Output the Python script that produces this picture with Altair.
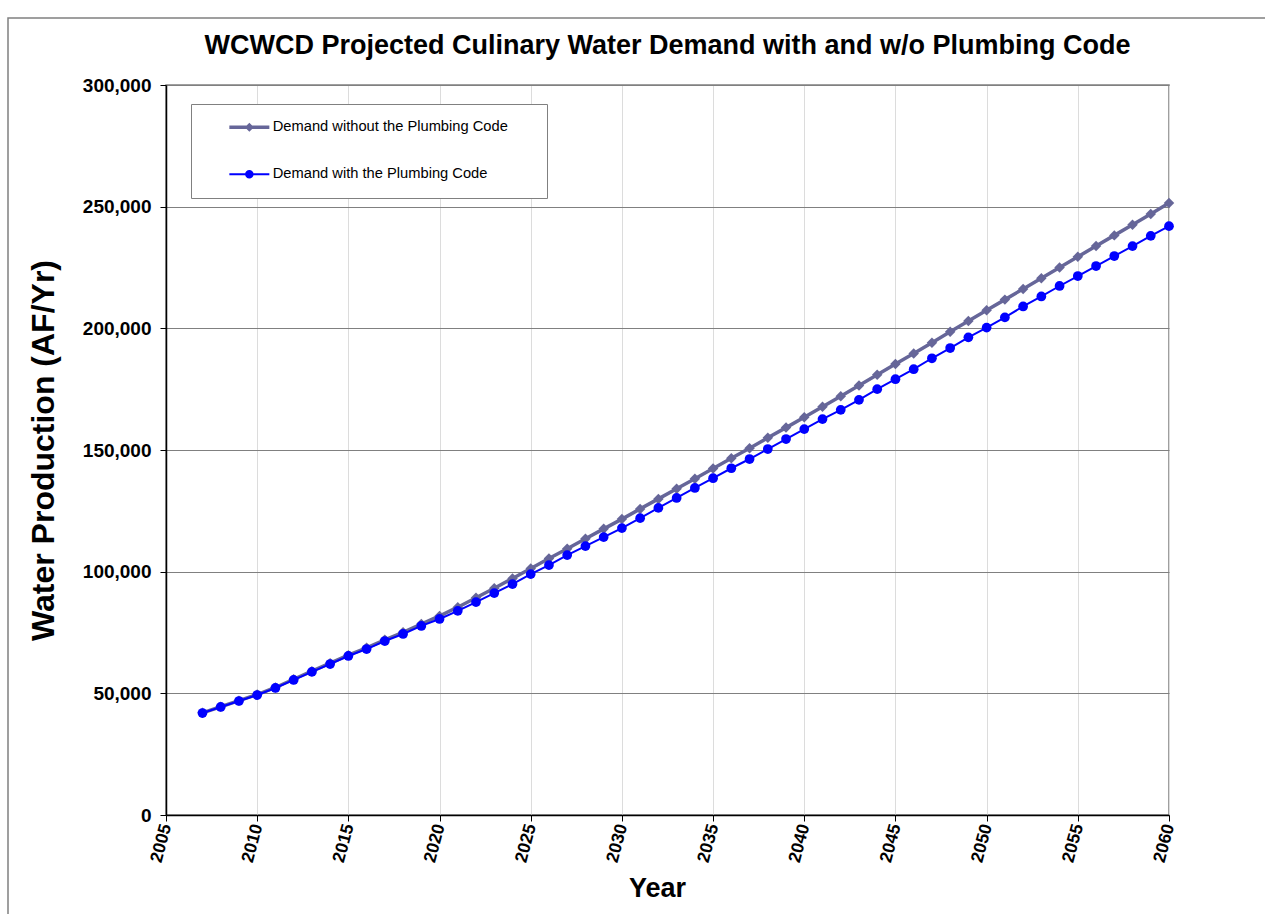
import altair as alt
import pandas as pd

years = list(range(2007, 2061))
without_code = [42000, 44500, 47000, 49500, 52400, 55800, 59100, 62400, 65700, 68700,
                72000, 75100, 78500, 81800, 85400, 89300, 93200, 97200, 101300, 105400,
                109400, 113500, 117600, 121600, 125800, 129900, 134100, 138200, 142400, 146600,
                150700, 155000, 159200, 163500, 167800, 172100, 176500, 180900, 185300, 189700,
                194100, 198600, 203000, 207400, 211800, 216200, 220600, 225000, 229400, 233800,
                238200, 242600, 247000, 251500]
with_code = [41900, 44400, 46850, 49300, 52200, 55500, 58800, 62050, 65350, 68200,
             71500, 74400, 77700, 80550, 83900, 87500, 91200, 94900, 99000, 102700,
             106800, 110500, 114200, 117900, 122000, 126200, 130300, 134400, 138400, 142500,
             146300, 150400, 154500, 158600, 162700, 166500, 170600, 175000, 179100, 183200,
             187700, 191900, 196300, 200300, 204500, 209000, 213100, 217400, 221500, 225600,
             229700, 233800, 238000, 242000]

series_names = ["Demand without the Plumbing Code", "Demand with the Plumbing Code"]
series_colors = ["#666699", "#0000FF"]
x_ticks = [2005, 2010, 2015, 2020, 2025, 2030, 2035, 2040, 2045, 2050, 2055, 2060]
y_ticks = [0, 50000, 100000, 150000, 200000, 250000, 300000]

df = pd.DataFrame({
    "Year": years * 2,
    "Demand": without_code + with_code,
    "Series": [series_names[0]] * len(years) + [series_names[1]] * len(years),
})

FONT = "Liberation Sans"

x = alt.X("Year:Q",
          scale=alt.Scale(domain=[2005, 2060], nice=False, zero=False),
          axis=alt.Axis(values=x_ticks, format="d", title="Year", titleX=491))
y = alt.Y("Demand:Q",
          scale=alt.Scale(domain=[0, 300000], nice=False),
          axis=alt.Axis(values=y_ticks, format=",.0f", title="Water Production (AF/Yr)"))

base = alt.Chart(df).encode(x=x, y=y)

gray_line = base.transform_filter(alt.datum.Series == series_names[0]).mark_line(
    color=series_colors[0], strokeWidth=3.5)
gray_pts = base.transform_filter(alt.datum.Series == series_names[0]).mark_point(
    shape="diamond", filled=True, size=110, color=series_colors[0], opacity=1)
blue_line = base.transform_filter(alt.datum.Series == series_names[1]).mark_line(
    color=series_colors[1], strokeWidth=2)
blue_pts = base.transform_filter(alt.datum.Series == series_names[1]).mark_point(
    shape="circle", filled=True, size=95, color=series_colors[1], opacity=1)

# legend symbols: line segment + marker (the trailing moveTo only widens the legend box)
legend_paths = [
    "M-4,-0.35H4V0.35H-4ZM0,-0.9L0.9,0L0,0.9L-0.9,0ZM56.2,0",
    "M-4,-0.2H4V0.2H-4ZM0.85,0A0.85,0.85 0 1,1 -0.85,0A0.85,0.85 0 1,1 0.85,0ZM56.2,0",
]
legend_carrier = base.transform_filter("false").mark_point(filled=True, opacity=1).encode(
    color=alt.Color("Series:N",
                    scale=alt.Scale(domain=series_names, range=series_colors),
                    legend=alt.Legend(
                        title=None, orient="none", legendX=25, legendY=19,
                        symbolSize=100, symbolStrokeWidth=0, symbolOpacity=1,
                        symbolOffset=35, labelOffset=16,
                        labelFontSize=14.7, labelFont=FONT,
                        labelColor="black", labelLimit=500, rowPadding=31,
                        padding=16, fillColor="white", strokeColor="#808080",
                        cornerRadius=0)),
    shape=alt.Shape("Series:N",
                    scale=alt.Scale(domain=series_names, range=legend_paths)),
)

frame = alt.Chart(pd.DataFrame({"f": [0]})).mark_rect(
    fill=None, stroke="#808080", strokeWidth=1.5
).encode(x=alt.value(-158), x2=alt.value(1120), y=alt.value(-67), y2=alt.value(850))

chart = alt.layer(frame, gray_line, gray_pts, blue_line, blue_pts, legend_carrier).properties(
    width=1003, height=730,
    title=alt.TitleParams("WCWCD Projected Culinary Water Demand with and w/o Plumbing Code",
                          fontSize=27, font=FONT, fontWeight="bold", color="black",
                          anchor="middle", frame="group", offset=-43),
    autosize=alt.AutoSizeParams(type="none"),
    padding={"left": 166, "top": 85, "right": 96, "bottom": 99},
).configure_view(
    stroke="#808080", strokeWidth=1.5
).configure_axis(
    labelFont=FONT, titleFont=FONT, labelColor="black", titleColor="black",
    domainColor="black", domainWidth=1.5, tickColor="black", tickSize=6,
    labelFontWeight="bold", titleFontWeight="bold",
).configure_axisX(
    labelFontSize=17.5, labelAngle=-75, labelAlign="right", labelBaseline="middle",
    labelPadding=3, gridColor="#dcdcdc", gridWidth=1, titleFontSize=27, titlePadding=12,
).configure_axisY(
    labelFontSize=19, labelPadding=9, gridColor="#808080", gridWidth=1,
    titleFontSize=32, titlePadding=22,
)

chart.save("out.html", embed_options={"renderer": "svg", "actions": False})
